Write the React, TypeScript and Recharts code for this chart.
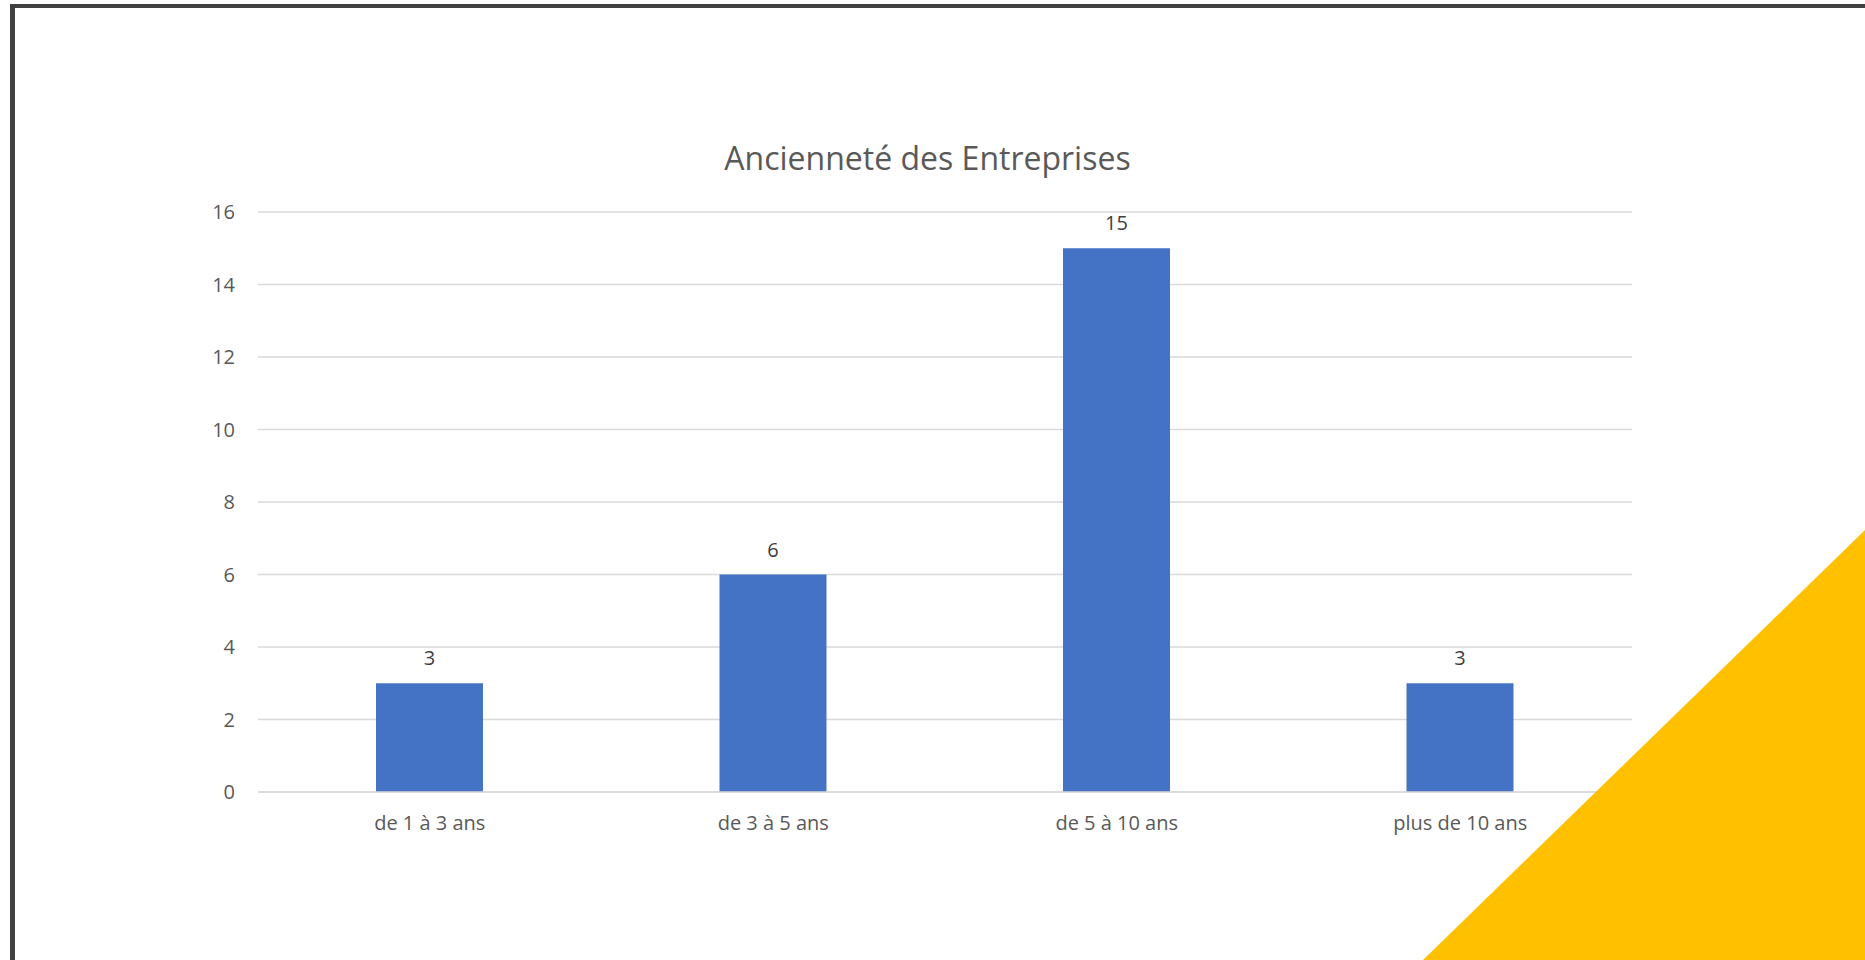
import { BarChart, Bar, XAxis, YAxis, CartesianGrid, LabelList } from 'recharts';

const categories = ['de 1 à 3 ans', 'de 3 à 5 ans', 'de 5 à 10 ans', 'plus de 10 ans'];
const counts = [3, 6, 15, 3];
const yTicks = [0, 2, 4, 6, 8, 10, 12, 14, 16];
const title = 'Ancienneté des Entreprises';

const data = categories.map((name, i) => ({ name, value: counts[i] }));

const FONT = '"Open Sans", sans-serif';

export default function App() {
    return (
        <div style={{ position: 'absolute', left: 0, top: 0, width: 1865, height: 960, background: '#fff', overflow: 'hidden' }}>
            <BarChart
                width={1865}
                height={960}
                data={data}
                margin={{ top: 212, right: 233, bottom: 118, left: 0 }}
            >
                <CartesianGrid vertical={false} stroke="#D9D9D9" strokeWidth={1.5} />
                <XAxis
                    dataKey="name"
                    height={50}
                    axisLine={{ stroke: '#D9D9D9', strokeWidth: 1.5 }}
                    tickLine={false}
                    tickSize={0}
                    tickMargin={24}
                    tick={{ fill: '#595959', fontSize: 20, fontFamily: FONT }}
                />
                <YAxis
                    width={258}
                    domain={[0, 16]}
                    ticks={yTicks}
                    axisLine={false}
                    tickLine={false}
                    tickSize={0}
                    tickMargin={23}
                    tick={{ fill: '#595959', fontSize: 20, fontFamily: FONT }}
                />
                <Bar dataKey="value" fill="#4472C4" barSize={107} isAnimationActive={false}>
                    <LabelList
                        dataKey="value"
                        position="top"
                        offset={18}
                        style={{ fill: '#404040', fontSize: 20, fontFamily: FONT }}
                    />
                </Bar>
            </BarChart>
            <svg
                width={1865}
                height={960}
                style={{ position: 'absolute', left: 0, top: 0, pointerEvents: 'none' }}
            >
                <text x={927.5} y={170} textAnchor="middle" fill="#595959" fontSize={32} fontFamily={FONT}>
                    {title}
                </text>
                <polygon points="1423,960 1865,530 1865,960" fill="#FFC000" />
                <rect x={10} y={4} width={1855} height={4} fill="#404040" />
                <rect x={10} y={4} width={5} height={956} fill="#404040" />
            </svg>
        </div>
    );
}
